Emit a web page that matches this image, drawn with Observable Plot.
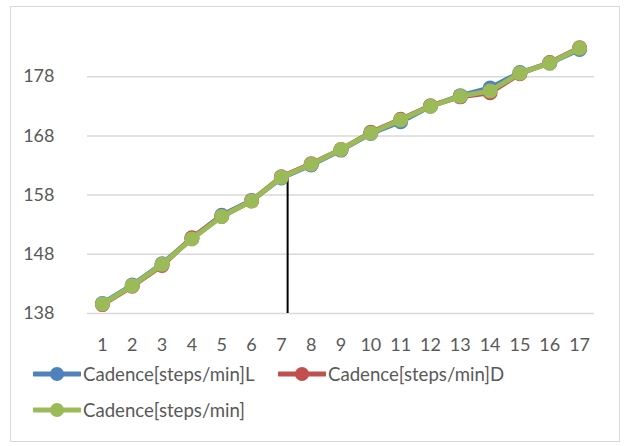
<!DOCTYPE html>
<html>
<head>
<meta charset="utf-8">
<script src="https://cdn.jsdelivr.net/npm/d3@7"></script>
<script src="https://cdn.jsdelivr.net/npm/@observablehq/plot@0.6"></script>
<style>
  html, body { margin: 0; padding: 0; background: #fff; }
  body { width: 628px; height: 446px; position: relative; overflow: hidden; font-family: Lato, "Open Sans", sans-serif; }
  #frame { position: absolute; left: 10px; top: 6px; width: 608px; height: 434px; border: 1.5px solid #d9d9d9; box-sizing: content-box; }
  #chart { position: absolute; left: 0; top: 0; }
  .leg { position: absolute; display: flex; align-items: center; color: #595959; font-size: 18.6px; white-space: nowrap; }
  .leg svg { display: block; margin-right: 2px; }
</style>
</head>
<body>
<div id="frame"></div>
<div id="chart"></div>
<div id="legend"></div>
<script>
const categories = [1, 2, 3, 4, 5, 6, 7, 8, 9, 10, 11, 12, 13, 14, 15, 16, 17];
const cadenceL = [139.7, 142.8, 146.4, 150.7, 154.6, 157.1, 160.9, 163.1, 165.6, 168.4, 170.4, 173.0, 174.8, 176.1, 178.7, 180.3, 182.6];
const cadenceD = [139.5, 142.6, 146.1, 150.8, 154.4, 157.0, 161.1, 163.3, 165.7, 168.6, 170.8, 173.1, 174.6, 175.3, 178.5, 180.4, 182.9];
const cadence  = [139.6, 142.7, 146.3, 150.6, 154.4, 157.0, 161.0, 163.2, 165.7, 168.5, 170.7, 173.0, 174.7, 175.6, 178.6, 180.3, 182.8];
const yTicks = [138, 148, 158, 168, 178];
const seriesNames = ["Cadence[steps/min]L", "Cadence[steps/min]D", "Cadence[steps/min]"];
const seriesColors = ["#4F81BD", "#C0504D", "#9BBB59"];
const markerLine = {x: 7.21, y1: 138, y2: 160.85};

const seriesData = [cadenceL, cadenceD, cadence].map(vals => categories.map((c, i) => ({x: c, y: vals[i]})));

const marks = [
  Plot.ruleY(yTicks, {stroke: "#d9d9d9", strokeWidth: 1.5}),
  Plot.ruleX([markerLine], {x: "x", y1: "y1", y2: "y2", stroke: "#000", strokeWidth: 2})
];
seriesData.forEach((d, i) => {
  marks.push(Plot.line(d, {x: "x", y: "y", stroke: seriesColors[i], strokeWidth: 5}));
  marks.push(Plot.dot(d, {x: "x", y: "y", r: 7.5, fill: seriesColors[i], stroke: "none"}));
});

const chart = Plot.plot({
  width: 628,
  height: 360,
  marginLeft: 87,
  marginRight: 34,
  marginTop: 17,
  marginBottom: 47,
  style: {fontFamily: "Lato, 'Open Sans', sans-serif", fontSize: "18px", color: "#595959", background: "transparent"},
  x: {domain: [0.5, 17.5], ticks: categories, tickFormat: d => String(d), tickSize: 0, tickPadding: 25, label: null},
  y: {domain: [138, 188], ticks: yTicks, tickSize: 0, tickPadding: 33, label: null},
  marks
});
document.getElementById("chart").appendChild(chart);

// legend
const legendPos = [[33, 374], [278, 374], [33, 410]];
const legend = document.getElementById("legend");
seriesNames.forEach((name, i) => {
  const div = document.createElement("div");
  div.className = "leg";
  div.style.left = legendPos[i][0] + "px";
  div.style.top = (legendPos[i][1] - 13) + "px";
  div.style.height = "26px";
  const ns = "http://www.w3.org/2000/svg";
  const svg = document.createElementNS(ns, "svg");
  svg.setAttribute("width", 48); svg.setAttribute("height", 26);
  const ln = document.createElementNS(ns, "line");
  ln.setAttribute("x1", 1); ln.setAttribute("x2", 47); ln.setAttribute("y1", 13); ln.setAttribute("y2", 13);
  ln.setAttribute("stroke", seriesColors[i]); ln.setAttribute("stroke-width", 5); ln.setAttribute("stroke-linecap", "round");
  const c = document.createElementNS(ns, "circle");
  c.setAttribute("cx", 24); c.setAttribute("cy", 13); c.setAttribute("r", 7); c.setAttribute("fill", seriesColors[i]);
  svg.appendChild(ln); svg.appendChild(c);
  const span = document.createElement("span");
  span.textContent = name;
  div.appendChild(svg); div.appendChild(span);
  legend.appendChild(div);
});
</script>
</body>
</html>
